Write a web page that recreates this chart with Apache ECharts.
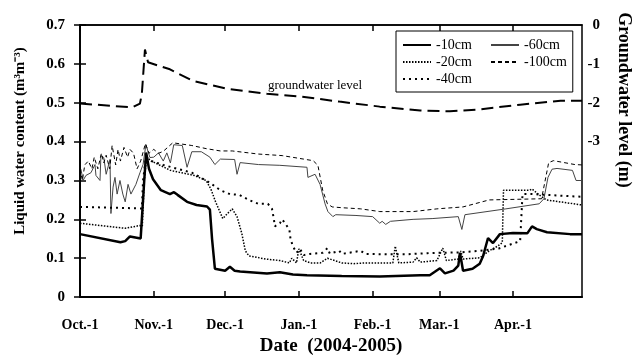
<!DOCTYPE html>
<html>
<head>
<meta charset="utf-8">
<script src="https://cdn.jsdelivr.net/npm/echarts@6.0.0/dist/echarts.min.js"></script>
<style>
  html, body { margin: 0; padding: 0; background: #fff; }
  #chart { width: 636px; height: 361px; }
</style>
</head>
<body>
<div id="chart"></div>
<script>
(function () {
  'use strict';

  // x values are days after Oct. 1, 2004
  var monthDays = [0, 31, 61, 92, 123, 151, 182];
  var monthLabels = ['Oct.-1', 'Nov.-1', 'Dec.-1', 'Jan.-1', 'Feb.-1', 'Mar.-1', 'Apr.-1'];

  // liquid water content (m3/m3), [day, value]
  var depth10 = [[0, 0.162], [17, 0.141], [19, 0.144], [21, 0.156], [25.5, 0.151], [26.2, 0.152], [27, 0.30], [27.8, 0.372],
    [29, 0.33], [30.7, 0.303], [34, 0.275], [37.8, 0.265], [39.5, 0.27], [41, 0.263], [45, 0.245], [49, 0.237], [53.4, 0.233],
    [54.6, 0.225], [55.5, 0.15], [56.7, 0.073], [61, 0.068], [63, 0.078], [65, 0.068], [67.3, 0.066], [78.6, 0.061],
    [84, 0.064], [89.5, 0.058], [95.4, 0.056], [110, 0.054], [126, 0.053], [143, 0.056], [147, 0.056], [151.3, 0.074],
    [153.4, 0.061], [157, 0.068], [159, 0.081], [159.7, 0.114], [161, 0.068], [165, 0.073], [168, 0.086], [169.4, 0.105],
    [171.5, 0.152], [173.6, 0.139], [176.5, 0.162], [182, 0.165], [188, 0.164], [190, 0.182], [192, 0.175], [196.3, 0.167],
    [206, 0.162], [211, 0.162]];
  var depth20 = [[0, 0.19], [19, 0.177], [25, 0.184], [26.2, 0.182], [27, 0.30], [28, 0.36], [30, 0.35], [38, 0.326],
    [48, 0.313], [53, 0.30], [55, 0.278], [57, 0.245], [60, 0.202], [62, 0.215], [64, 0.227], [66, 0.207], [68, 0.164],
    [69.5, 0.119], [71, 0.106], [78, 0.098], [84, 0.094], [88, 0.088], [89, 0.1], [91, 0.088], [92, 0.124], [94, 0.094],
    [97, 0.088], [101, 0.088], [104, 0.1], [110, 0.088], [115, 0.086], [120, 0.088], [131.5, 0.088], [132.5, 0.131],
    [134, 0.088], [140, 0.09], [141.5, 0.101], [143, 0.09], [150, 0.094], [152.5, 0.126], [154, 0.094], [159, 0.098],
    [160, 0.119], [161, 0.098], [168, 0.101], [172, 0.119], [175.5, 0.131], [177.5, 0.14], [178, 0.275], [189, 0.275],
    [190, 0.278], [193, 0.263], [196, 0.25], [211, 0.237]];
  var depth40 = [[0, 0.232], [26, 0.228], [26.5, 0.30], [27.7, 0.36], [30, 0.35], [35, 0.34], [41, 0.33], [47, 0.32],
    [53, 0.30], [56, 0.288], [59, 0.275], [63, 0.265], [67, 0.263], [71, 0.25], [75, 0.24], [79, 0.24], [80.7, 0.227],
    [81.5, 0.2], [81.9, 0.182], [84, 0.19], [85, 0.2], [88, 0.174], [88.5, 0.149], [89.5, 0.131], [91, 0.114],
    [92.5, 0.124], [94, 0.108], [96.7, 0.111], [102, 0.114], [104, 0.126], [105, 0.112], [109, 0.119], [110, 0.111],
    [118, 0.119], [120, 0.111], [130, 0.11], [137, 0.11], [146, 0.113], [150, 0.114], [160, 0.115], [168, 0.119],
    [176, 0.125], [185, 0.144], [186, 0.265], [190, 0.265], [211, 0.258]];
  var depth60 = [[0.4, 0.329], [1.3, 0.30], [2.5, 0.313], [4.6, 0.32], [6.3, 0.341], [6.7, 0.313], [8.4, 0.30],
    [8.8, 0.364], [10, 0.359], [11, 0.316], [12.6, 0.354], [13, 0.215], [13.9, 0.283], [14.7, 0.308], [15.6, 0.265],
    [16.8, 0.30], [18, 0.265], [19, 0.245], [20.2, 0.29], [21.4, 0.265], [23.5, 0.29], [25.2, 0.32], [26.5, 0.341],
    [27.7, 0.392], [29.4, 0.359], [31, 0.36], [33, 0.371], [35, 0.35], [36.5, 0.371], [38, 0.345], [39.4, 0.392],
    [43, 0.39], [45, 0.334], [47, 0.374], [51, 0.374], [54.6, 0.36], [56.7, 0.341], [59, 0.355], [65, 0.354], [66, 0.316],
    [67.3, 0.346], [75, 0.341], [84, 0.339], [95.4, 0.334], [95.8, 0.308], [98.8, 0.316], [100.9, 0.29], [103, 0.24],
    [104.2, 0.22], [106.3, 0.207], [107.5, 0.212], [116, 0.21], [123, 0.207], [126, 0.19], [127, 0.195], [128.5, 0.187],
    [130.5, 0.195], [140, 0.2], [148, 0.202], [159, 0.207], [160.5, 0.174], [161.8, 0.212], [179, 0.227], [193, 0.24],
    [195, 0.253], [196.7, 0.308], [198.4, 0.329], [200.5, 0.331], [207, 0.326], [208.5, 0.30], [211, 0.30]];
  var depth100 = [[0, 0.33], [1, 0.30], [2, 0.34], [3.5, 0.35], [5, 0.33], [6, 0.36], [7.5, 0.33], [9, 0.37], [10, 0.345],
    [11, 0.365], [12.5, 0.33], [13.5, 0.39], [15, 0.34], [16, 0.38], [17, 0.35], [18.5, 0.385], [20, 0.36], [21, 0.38],
    [22.5, 0.37], [24, 0.33], [25.5, 0.35], [27.5, 0.395], [29, 0.37], [31, 0.38], [33, 0.37], [35, 0.375], [39, 0.397],
    [47, 0.39], [53, 0.382], [59, 0.376], [64, 0.376], [75, 0.368], [85, 0.364], [94, 0.355], [98, 0.351], [100, 0.339],
    [102, 0.275], [104, 0.24], [106, 0.232], [110, 0.23], [118, 0.227], [126, 0.22], [140, 0.22], [150, 0.227],
    [161, 0.232], [172, 0.25], [194, 0.253], [197, 0.346], [199, 0.351], [208, 0.341], [211, 0.34]];

  // groundwater level (m), right axis
  var groundwater = [[0, -2.02], [22, -2.12], [25.2, -2.02], [26, -1.77], [27.3, -0.63], [28.6, -0.96], [37.8, -1.14],
    [47.5, -1.44], [61.8, -1.64], [78.6, -1.77], [92.5, -1.84], [109, -1.97], [126, -2.1], [143, -2.2], [155.5, -2.22],
    [168, -2.17], [185, -2.05], [202, -1.95], [211, -1.95]];

  var serif = '"Liberation Serif", "Times New Roman", serif';
  var tickStyle = { inside: true, length: 6, lineStyle: { color: '#000', width: 1.5 } };

  function line(name, data, color, style, yIndex) {
    style.color = color;
    return {
      name: name,
      type: 'line',
      data: data,
      yAxisIndex: yIndex || 0,
      color: color,
      showSymbol: false,
      symbol: 'none',
      silent: true,
      animation: false,
      itemStyle: { color: color },
      lineStyle: style
    };
  }

  var chart = echarts.init(document.getElementById('chart'), null, { renderer: 'canvas' });

  var legendText = { fontFamily: serif, fontSize: 14, color: '#000' };

  var option = {
    backgroundColor: '#fff',
    animation: false,
    grid: { left: 80, right: 54, top: 25, bottom: 59, show: true, borderColor: '#000', borderWidth: 1.5 },
    legend: [{
      data: ['-10cm', '-20cm', '-40cm'],
      orient: 'vertical',
      left: 396, top: 31,
      padding: [7, 101, 6, 6],
      itemGap: 3, itemWidth: 28, itemHeight: 14,
      borderColor: '#000', borderWidth: 1,
      itemStyle: { opacity: 0 },
      textStyle: legendText
    }, {
      data: ['-60cm', '-100cm'],
      orient: 'vertical',
      left: 490, top: 38,
      padding: 0,
      itemGap: 3, itemWidth: 28, itemHeight: 14,
      itemStyle: { opacity: 0 },
      textStyle: legendText
    }],
    xAxis: [{
      type: 'value', min: 0, max: 211,
      name: 'Date  (2004-2005)', nameLocation: 'middle', nameGap: 37,
      nameTextStyle: { fontFamily: serif, fontSize: 19, fontWeight: 'bold', color: '#000' },
      splitLine: { show: false },
      axisLine: { lineStyle: { color: '#000', width: 2 } },
      axisTick: { inside: true, length: 6, customValues: monthDays, lineStyle: { color: '#000', width: 1.5 } },
      axisLabel: {
        customValues: monthDays, margin: 21,
        fontFamily: serif, fontSize: 14, fontWeight: 'bold', color: '#000',
        formatter: function (v) { return monthLabels[monthDays.indexOf(v)]; }
      }
    }, {
      type: 'value', min: 0, max: 211, position: 'top',
      splitLine: { show: false },
      axisLine: { lineStyle: { color: '#000', width: 1.5 } },
      axisTick: { inside: true, length: 6, customValues: monthDays, lineStyle: { color: '#000', width: 1.5 } },
      axisLabel: { show: false }
    }],
    yAxis: [{
      type: 'value', min: 0, max: 0.7, interval: 0.1,
      splitLine: { show: false },
      axisLine: { show: true, lineStyle: { color: '#000', width: 1.5 } },
      axisTick: tickStyle,
      axisLabel: {
        margin: 15, fontFamily: serif, fontSize: 15, fontWeight: 'bold', color: '#000',
        formatter: function (v) { return v === 0 ? '0' : v.toFixed(1); }
      }
    }, {
      type: 'value', min: -7, max: 0, interval: 1, position: 'right',
      splitLine: { show: false },
      axisLine: { show: true, lineStyle: { color: '#000', width: 1.5 } },
      axisTick: tickStyle,
      axisLabel: {
        margin: 18, align: 'right', fontFamily: serif, fontSize: 15, fontWeight: 'bold', color: '#000',
        formatter: function (v) { return v >= -3 ? String(v) : ''; }
      }
    }],
    graphic: [{
      type: 'text', x: 20, y: 141, rotation: Math.PI / 2,
      style: {
        text: 'Liquid water content (m\u00b3m\u207b\u00b3)', align: 'center', verticalAlign: 'middle',
        font: 'bold 15px ' + serif, fill: '#000'
      }
    }, {
      type: 'text', x: 624, y: 100, rotation: -Math.PI / 2,
      style: {
        text: 'Groundwater level (m)', align: 'center', verticalAlign: 'middle',
        font: 'bold 18px ' + serif, fill: '#000'
      }
    }, {
      type: 'text', x: 268, y: 86,
      style: {
        text: 'groundwater level', align: 'left', verticalAlign: 'middle',
        font: '13px ' + serif, fill: '#000'
      }
    }],
    series: [
      line('-10cm', depth10, '#000', { width: 2.5 }),
      line('-60cm', depth60, '#444', { width: 1 }),
      line('-20cm', depth20, '#000', { width: 1.5, type: [1.5, 1.5] }),
      line('-100cm', depth100, '#000', { width: 1, type: [4, 3] }),
      line('-40cm', depth40, '#000', { width: 2, type: [2, 4] }),
      line('groundwater level', groundwater, '#000', { width: 2, type: [12, 6] }, 1)
    ]
  };

  chart.setOption(option);
})();
</script>
</body>
</html>
